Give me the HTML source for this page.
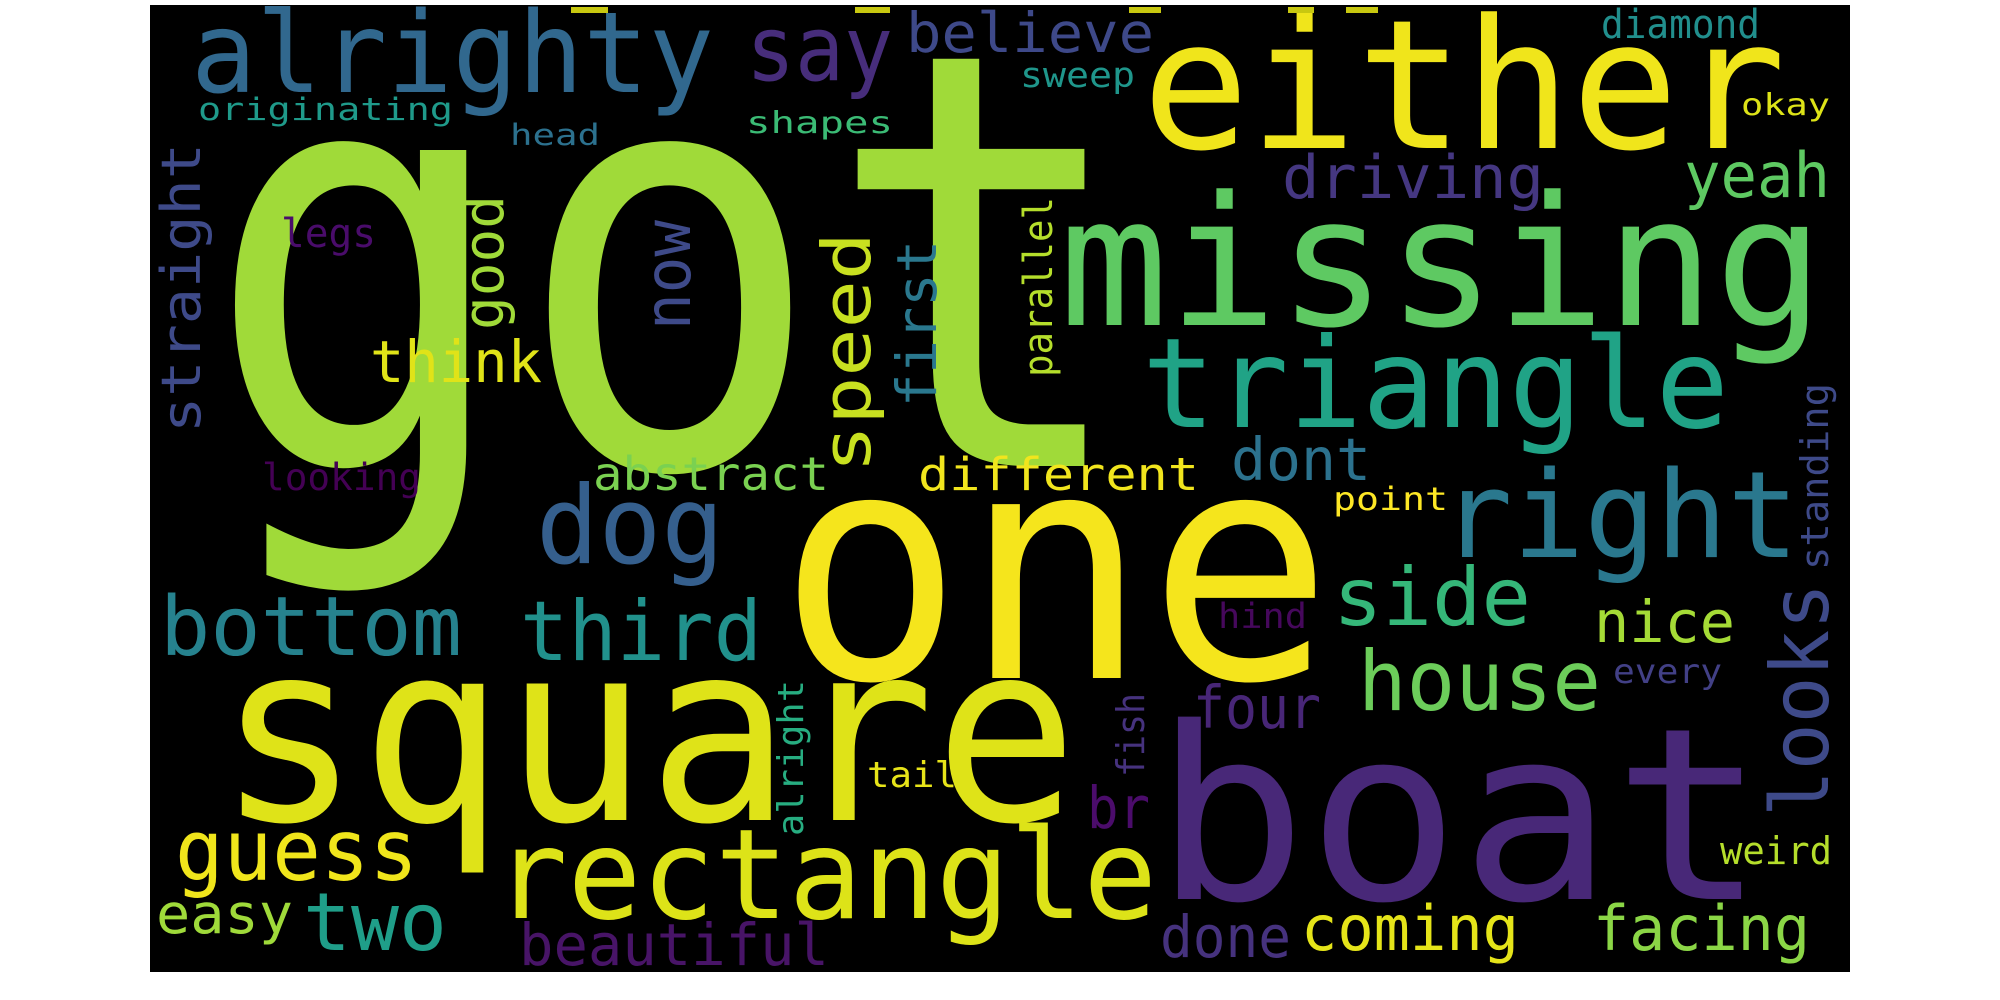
<!DOCTYPE html>
<html>
<head>
<meta charset="utf-8">
<style>
html,body{margin:0;padding:0;background:#fff;width:2000px;height:1000px;overflow:hidden;}
svg{display:block;}
text{font-family:"DejaVu Sans Mono","Liberation Mono",monospace;}
</style>
</head>
<body>
<svg id="cloud" width="2000" height="1000" viewBox="0 0 2000 1000" xmlns="http://www.w3.org/2000/svg">
  <rect x="150" y="5" width="1700" height="967" fill="#000"/>
  <g id="words"></g>
</svg>
<script>
// word list, colours, and layout (left/baseline x,y, font size, text length, rotation)
const words  = ["got","one","square","boat","missing","either","triangle","right","rectangle","alrighty","dog","bottom","third","side","house","guess","two","coming","facing","beautiful","done","easy","four","different","abstract","dont","think","driving","yeah","say","believe","originating","shapes","head","sweep","diamond","okay","legs","looking","point","hind","nice","every","tail","weird","br","straight","good","now","speed","first","parallel","looks","standing","fish","alright"];
const colors = ["#a0da39","#f5e51c","#dfe318","#482878","#5ec962","#f0e51b","#20a386","#2a788e","#dde318","#31688e","#355f8d","#26828e","#21918c","#35b779","#6ccd5a","#f0e51b","#1f9e89","#e5e419","#8bd646","#481467","#46327e","#9fda3a","#482677","#f1e51d","#7ad151","#2c728e","#e0e318","#453781","#5ec962","#472d7b","#3e4989","#1f9a8a","#3bbb75","#2c718e","#1f968b","#218f8d","#dde318","#4a0c6b","#440154","#fde725","#46085c","#a5db36","#424086","#e7e419","#b5de2b","#4b0c6b","#3e4a89","#a0da39","#3e4a89","#c8e020","#2a788e","#b5de2b","#3e4a89","#3e4a89","#46327e","#27ad81"];
const xs     = [204,778,217,1154,1059,1142,1142,1441,494,191,536,160,520,1333,1358,175,303,1301,1593,519,1160,156,1193,918,593,1231,370,1282,1684,746,906,198,746,510,1020,1601,1741,281,262,1333,1218,1594,1613,867,1720,1087,200,503,690,870,936,1052,1828,1828,1144,803];
const ys     = [466,678,820,899,325,148,427,557,918,92,563,655,660,625,710,880,950,950,950,965,957,933,728,490,490,480,382,198,197,80,52,120,133,145,87,38,115,247,490,510,628,642,683,787,864,828,433,330,330,473,407,377,817,570,777,836];
const sizes  = [580,318,250,240,180,180,125,120,125,112,108,82,83,80,83,85,80,62,62,58,58,55,59,45,46,59,58,60,62,90,55,31,30,29,35,40,30,40,37,32,35,58,34,36,38,58,54,56,64,67,55,40,80,38,38,36];
const lens   = [931,555,861,612,765,644,587,358,663,523,188,302,242,198,243,243,144,218,217,310,131,137,128,281,236,140,172,262,146,147,248,255,147,90,115,159,89,95,159,115,89,141,109,90,112,63,290,135,110,241,167,180,234,187,84,156];
const rots   = [0,0,0,0,0,0,0,0,0,0,0,0,0,0,0,0,0,0,0,0,0,0,0,0,0,0,0,0,0,0,0,0,0,0,0,0,0,0,0,0,0,0,0,0,0,0,-90,-90,-90,-90,-90,-90,-90,-90,-90,-90];

const NS = "http://www.w3.org/2000/svg";
const g = document.getElementById("words");
for (let i = 0; i < words.length; i++) {
  const t = document.createElementNS(NS, "text");
  t.setAttribute("x", xs[i]);
  t.setAttribute("y", ys[i]);
  t.setAttribute("font-size", sizes[i]);
  t.setAttribute("fill", colors[i]);
  t.setAttribute("textLength", lens[i]);
  t.setAttribute("lengthAdjust", "spacingAndGlyphs");
  if (rots[i] !== 0) t.setAttribute("transform", "rotate(" + rots[i] + " " + xs[i] + " " + ys[i] + ")");
  
  
  t.textContent = words[i];
  g.appendChild(t);
}
// small clipped fragments along the top edge
const fragX = [571,855,1129,1288,1346];
const fragW = [37,35,32,26,32];
for (let i = 0; i < fragX.length; i++) {
  const r = document.createElementNS(NS, "rect");
  r.setAttribute("x", fragX[i]);
  r.setAttribute("y", 7);
  r.setAttribute("width", fragW[i]);
  r.setAttribute("height", 6);
  r.setAttribute("fill", "#c8c810");
  
  
  g.appendChild(r);
}
</script>
</body>
</html>
